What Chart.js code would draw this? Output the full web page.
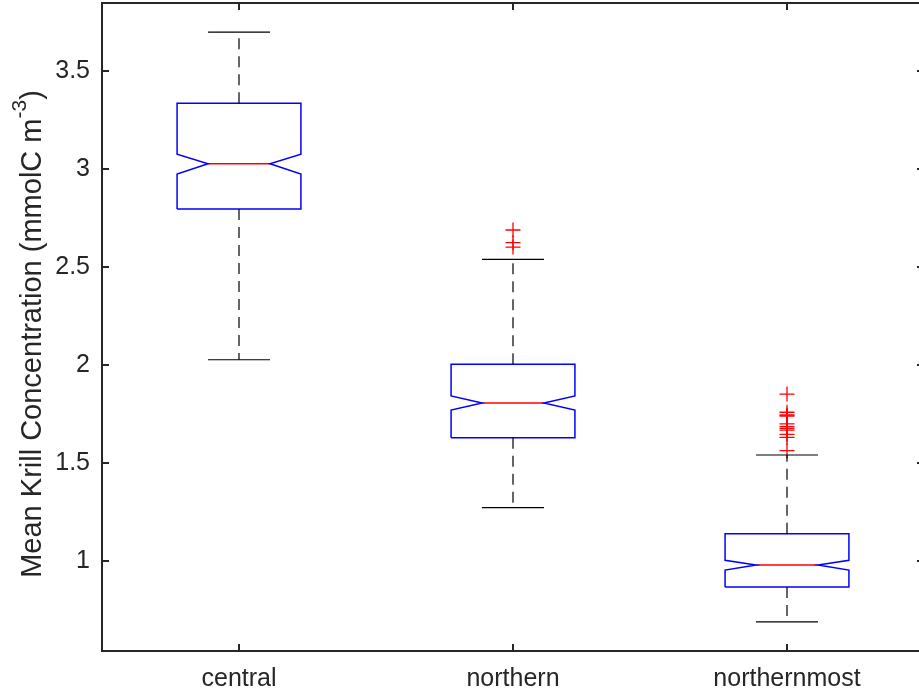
<!DOCTYPE html>
<html>
<head>
  <title>Mean Krill Concentration</title>
  <script src="https://cdn.jsdelivr.net/npm/chart.js"></script>
  <style>
    html, body {
      margin: 0;
      padding: 0;
      background: #ffffff;
      overflow: hidden;
    }
    .wrap {
      width: 919px;
      height: 693px;
      overflow: hidden;
    }
  </style>
</head>
<body>
  <div class="wrap">
    <canvas id="boxChart" width="925" height="693"></canvas>
  </div>

  <script>
    // data
    const categories = ['central', 'northern', 'northernmost'];
    const whiskerLow  = [2.027, 1.272, 0.690];
    const q1          = [2.796, 1.629, 0.867];
    const notchLow    = [2.975, 1.770, 0.954];
    const medians     = [3.027, 1.806, 0.980];
    const notchHigh   = [3.076, 1.842, 1.004];
    const q3          = [3.335, 2.004, 1.139];
    const whiskerHigh = [3.698, 2.539, 1.541];
    const outliers = [
      [],
      [2.689, 2.624, 2.602],
      [1.852, 1.759, 1.745, 1.740, 1.700, 1.686, 1.677, 1.668, 1.646, 1.631, 1.563]
    ];
    const yTicks = [1, 1.5, 2, 2.5, 3, 3.5];
    const xTicks = [1, 2, 3];
    const yMin = 0.541, yMax = 3.847;

    const halfBox = 0.226;   // box half width in x units
    const halfNotch = 0.113;

    const FONT = 'Liberation Sans, Arial, Helvetica, sans-serif';
    const AX = '#262626';

    const datasets = [];
    categories.forEach((name, i) => {
      const x = i + 1;
      // whiskers (dashed)
      datasets.push({ data: [{x: x, y: q3[i]}, {x: x, y: whiskerHigh[i]}],
        borderColor: '#000000', borderWidth: 1.2, borderDash: [11, 7] });
      datasets.push({ data: [{x: x, y: q1[i]}, {x: x, y: whiskerLow[i]}],
        borderColor: '#000000', borderWidth: 1.2, borderDash: [11, 7] });
      // caps
      datasets.push({ data: [{x: x - halfNotch, y: whiskerHigh[i]}, {x: x + halfNotch, y: whiskerHigh[i]}],
        borderColor: '#000000', borderWidth: 1.2 });
      datasets.push({ data: [{x: x - halfNotch, y: whiskerLow[i]}, {x: x + halfNotch, y: whiskerLow[i]}],
        borderColor: '#000000', borderWidth: 1.2 });
      // notched box outline
      datasets.push({ data: [
          {x: x - halfBox, y: q1[i]}, {x: x + halfBox, y: q1[i]},
          {x: x + halfBox, y: notchLow[i]}, {x: x + halfNotch, y: medians[i]},
          {x: x + halfBox, y: notchHigh[i]}, {x: x + halfBox, y: q3[i]},
          {x: x - halfBox, y: q3[i]}, {x: x - halfBox, y: notchHigh[i]},
          {x: x - halfNotch, y: medians[i]}, {x: x - halfBox, y: notchLow[i]},
          {x: x - halfBox, y: q1[i]}
        ],
        borderColor: '#0000ff', borderWidth: 1.5 });
      // median
      datasets.push({ data: [{x: x - halfNotch, y: medians[i]}, {x: x + halfNotch, y: medians[i]}],
        borderColor: '#ff0000', borderWidth: 1.5 });
      // outliers
      if (outliers[i].length) {
        datasets.push({ data: outliers[i].map(v => ({x: x, y: v})),
          showLine: false, pointStyle: 'cross', pointRadius: 7.5,
          pointBorderColor: '#ff0000', pointBorderWidth: 1.3, borderColor: '#ff0000' });
      }
    });
    datasets.forEach(d => {
      if (d.showLine === undefined) { d.showLine = true; d.pointRadius = 0; }
      d.tension = 0;
    });

    // frame, inward ticks and y label
    const framePlugin = {
      id: 'frame',
      afterDraw(chart) {
        const ctx = chart.ctx;
        const a = chart.chartArea;
        const xs = chart.scales.x, ys = chart.scales.y;
        const len = 7;
        ctx.save();
        ctx.strokeStyle = AX;
        ctx.lineWidth = 2;
        ctx.beginPath();
        ctx.rect(a.left, a.top, a.right - a.left, a.bottom - a.top);
        xTicks.forEach(v => {
          const px = Math.round(xs.getPixelForValue(v));
          ctx.moveTo(px, a.bottom); ctx.lineTo(px, a.bottom - len);
          ctx.moveTo(px, a.top); ctx.lineTo(px, a.top + len);
        });
        yTicks.forEach(v => {
          const py = Math.round(ys.getPixelForValue(v));
          ctx.moveTo(a.left, py); ctx.lineTo(a.left + len, py);
          ctx.moveTo(a.right, py); ctx.lineTo(a.right - len, py);
        });
        ctx.stroke();

        // y axis title with superscript
        const main = 'Mean Krill Concentration (mmolC m';
        const sup = '-3';
        const tail = ')';
        const fMain = '29px ' + FONT, fSup = '21px ' + FONT;
        ctx.font = fMain;
        const w1 = ctx.measureText(main).width;
        const w3 = ctx.measureText(tail).width;
        ctx.font = fSup;
        const w2 = ctx.measureText(sup).width;
        const total = w1 + w2 + w3;
        ctx.translate(41, (a.top + a.bottom) / 2 + 7);
        ctx.rotate(-Math.PI / 2);
        ctx.fillStyle = AX;
        ctx.textBaseline = 'alphabetic';
        ctx.textAlign = 'left';
        let x0 = -total / 2;
        ctx.font = fMain;
        ctx.fillText(main, x0, 0);
        ctx.font = fSup;
        ctx.fillText(sup, x0 + w1, -15);
        ctx.font = fMain;
        ctx.fillText(tail, x0 + w1 + w2, 0);
        ctx.restore();
      }
    };

    const noPad = s => {
      s.paddingLeft = 0; s.paddingRight = 0;
      s.paddingTop = 0; s.paddingBottom = 0;
    };

    new Chart(document.getElementById('boxChart'), {
      type: 'scatter',
      data: { datasets: datasets },
      options: {
        responsive: false,
        animation: false,
        layout: { autoPadding: false, padding: { left: 0, top: 3, right: 1, bottom: 0 } },
        plugins: { legend: { display: false }, tooltip: { enabled: false } },
        scales: {
          x: {
            type: 'linear',
            min: 0.5,
            max: 3.5,
            grid: { display: false, drawTicks: false },
            border: { display: false },
            afterBuildTicks: s => { s.ticks = xTicks.map(v => ({ value: v })); },
            afterFit: s => { s.height = 42; noPad(s); },
            ticks: {
              padding: 13,
              maxRotation: 0,
              autoSkip: false,
              color: AX,
              font: { family: FONT, size: 25 },
              callback: v => categories[v - 1]
            }
          },
          y: {
            type: 'linear',
            min: yMin,
            max: yMax,
            grid: { display: false, drawTicks: false },
            border: { display: false },
            afterBuildTicks: s => { s.ticks = yTicks.map(v => ({ value: v })); },
            afterFit: s => { s.width = 102; noPad(s); },
            ticks: {
              padding: 12,
              color: AX,
              font: { family: FONT, size: 25 },
              callback: v => String(v)
            }
          }
        }
      },
      plugins: [framePlugin]
    });
  </script>
</body>
</html>
